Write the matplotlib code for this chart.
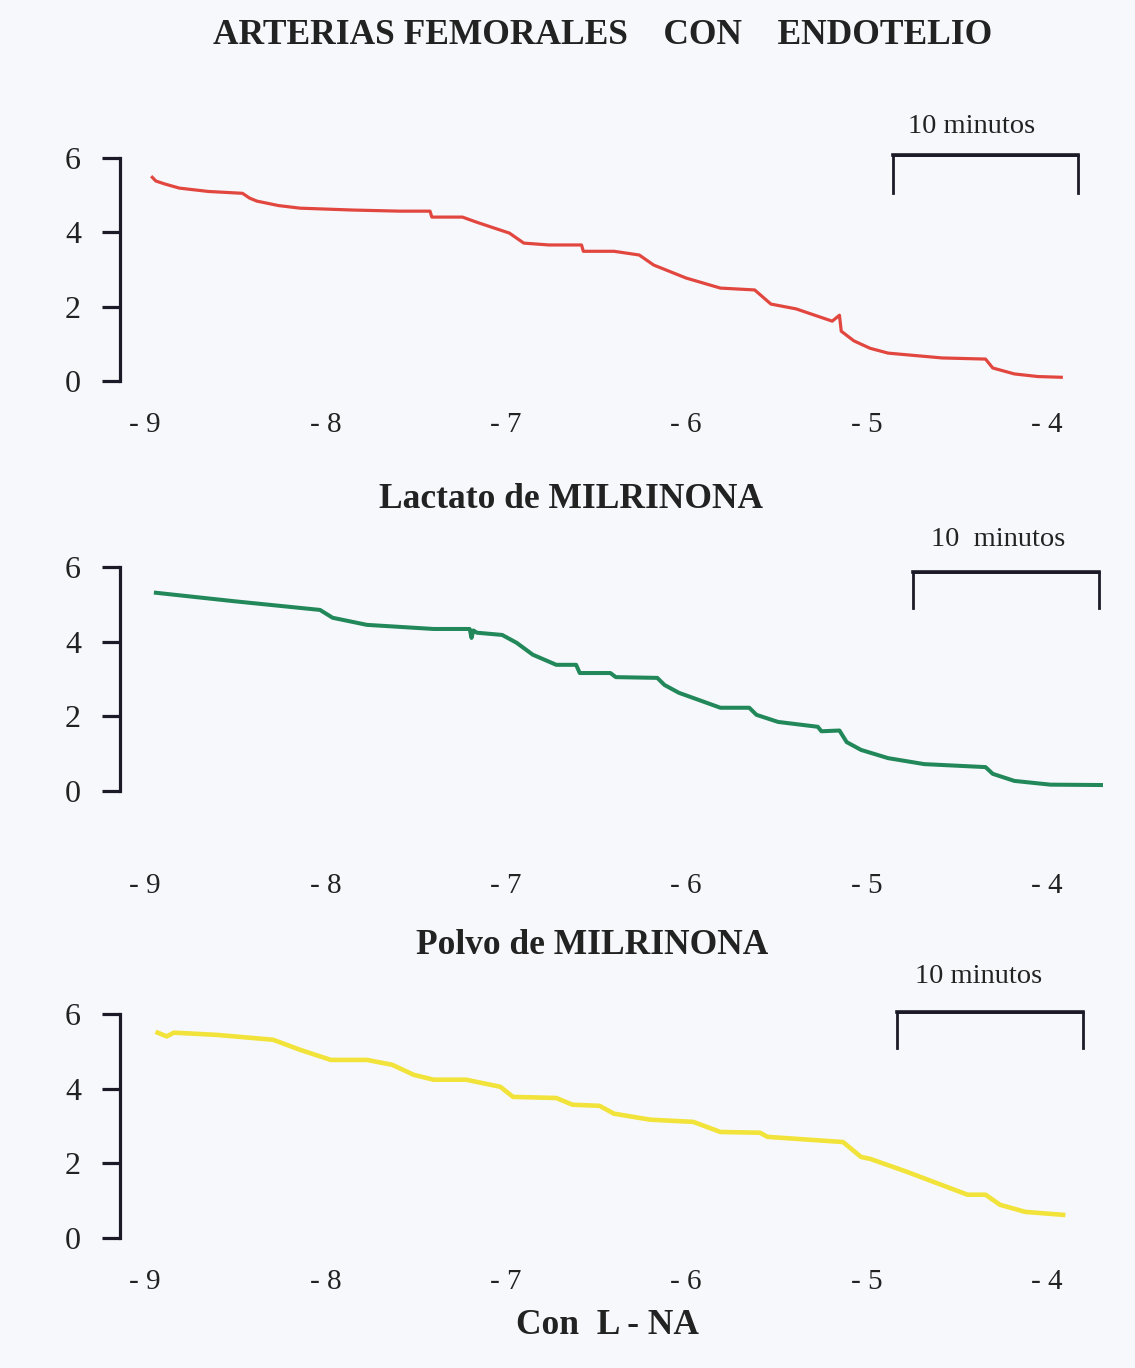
import matplotlib.pyplot as plt

plt.rcParams['font.family'] = ['Liberation Serif', 'DejaVu Serif']

# datos (log concentracion, tension)
x_rojo = [-8.96, -8.94, -8.89, -8.81, -8.65, -8.46, -8.42, -8.38, -8.26, -8.14, -7.85, -7.59, -7.42, -7.41, -7.24,
          -7.16, -7.03, -6.98, -6.90, -6.76, -6.58, -6.57, -6.40, -6.26, -6.18, -6.00, -5.81,
          -5.62, -5.53, -5.39, -5.19, -5.15, -5.14, -5.07, -4.98, -4.88, -4.58, -4.34, -4.30,
          -4.18, -4.05, -3.92]
y_rojo = [5.48, 5.38, 5.30, 5.19, 5.10, 5.05, 4.92, 4.84, 4.72, 4.65, 4.60, 4.57, 4.57, 4.41, 4.41,
          4.27, 4.06, 3.98, 3.71, 3.66, 3.66, 3.49, 3.49, 3.39, 3.12, 2.77, 2.50,
          2.45, 2.07, 1.94, 1.61, 1.77, 1.34, 1.08, 0.88, 0.75, 0.62, 0.59, 0.35,
          0.19, 0.12, 0.10]

x_verde = [-8.94, -8.50, -8.03, -7.96, -7.77, -7.40, -7.20, -7.19, -7.18, -7.16, -7.02, -6.94,
           -6.85, -6.72, -6.61, -6.59, -6.42, -6.39, -6.16, -6.12, -6.04, -5.81, -5.65,
           -5.61, -5.49, -5.27, -5.25, -5.15, -5.11, -5.03, -4.88, -4.68, -4.34, -4.30,
           -4.18, -3.98, -3.70]
y_verde = [5.31, 5.08, 4.85, 4.64, 4.45, 4.34, 4.34, 4.10, 4.30, 4.24, 4.18, 3.97,
           3.65, 3.38, 3.38, 3.16, 3.16, 3.05, 3.03, 2.84, 2.63, 2.23, 2.23,
           2.04, 1.85, 1.72, 1.60, 1.62, 1.31, 1.10, 0.88, 0.72, 0.64, 0.46,
           0.27, 0.17, 0.16]

x_amarillo = [-8.93, -8.88, -8.84, -8.60, -8.29, -8.14, -7.97, -7.77, -7.63, -7.51, -7.40,
              -7.22, -7.03, -6.96, -6.72, -6.63, -6.48, -6.40, -6.20, -5.96, -5.81, -5.59,
              -5.55, -5.13, -5.03, -4.98, -4.78, -4.44, -4.34, -4.26, -4.12, -3.91]
y_amarillo = [5.50, 5.40, 5.50, 5.44, 5.31, 5.04, 4.77, 4.77, 4.64, 4.37, 4.24,
              4.24, 4.05, 3.78, 3.75, 3.57, 3.54, 3.33, 3.17, 3.11, 2.84, 2.82,
              2.71, 2.57, 2.17, 2.12, 1.78, 1.16, 1.16, 0.89, 0.70, 0.62]

ticks_x = [-9, -8, -7, -6, -5, -4]
etiquetas_x = ['- 9', '- 8', '- 7', '- 6', '- 5', '- 4']
ticks_y = [0, 2, 4, 6]

W, H = 1135, 1368
fondo = '#f7f8fc'
tinta = '#1c1a26'

fig = plt.figure(figsize=(W / 100, H / 100), dpi=100, facecolor=fondo)


def panel(top, bottom, pad, xs, ys, color, lw, barra, texto_barra, texto_pos):
    ax = fig.add_axes([120 / W, 1 - bottom / H, 999 / W, (bottom - top) / H])
    ax.set_facecolor(fondo)
    ax.plot(xs, ys, color=color, lw=lw, solid_joinstyle='round', clip_on=False)
    ax.set_xlim(-9.139, -3.6)
    ax.set_ylim(0, 6)
    for s in ['top', 'right', 'bottom']:
        ax.spines[s].set_visible(False)
    ax.spines['left'].set_linewidth(2.3)
    ax.spines['left'].set_color(tinta)
    ax.set_yticks(ticks_y)
    ax.tick_params(axis='y', length=13, width=2.3, color=tinta, pad=15, labelsize=23, labelcolor='#222')
    ax.set_xticks(ticks_x)
    ax.set_xticklabels(etiquetas_x)
    ax.tick_params(axis='x', length=0, pad=pad, labelsize=21, labelcolor='#222')
    # barra de escala de 10 minutos
    x0, x1, yt, yb = barra
    ax.plot([x0, x0, x1, x1], [yb, yt, yt, yb], color=tinta, lw=2.0, clip_on=False)
    ax.plot([x0, x1], [yt, yt], color=tinta, lw=2.6, clip_on=False)
    ax.text(texto_pos[0], texto_pos[1], texto_barra, ha='center', va='center',
            fontsize=20.5, color='#222')
    return ax


panel(158, 381, 22, x_rojo, y_rojo, '#e2473f', 2.3,
      (-4.854, -3.828, 6.08, 5.05), '10 minutos', (-4.42, 6.85))
panel(567, 791, 59, x_verde, y_verde, '#22885a', 2.9,
      (-4.743, -3.712, 5.87, 4.91), '10  minutos', (-4.27, 6.75))
panel(1014, 1238, 22, x_amarillo, y_amarillo, '#f1e33a', 3.3,
      (-4.832, -3.80, 6.06, 5.09), '10 minutos', (-4.38, 7.0))

fig.text(603 / W, 1 - 36 / H, 'ARTERIAS FEMORALES    CON    ENDOTELIO', ha='center', va='center',
         fontsize=25.5, fontweight='bold', color='#222')
fig.text(571 / W, 1 - 500 / H, 'Lactato de MILRINONA', ha='center', va='center',
         fontsize=25.5, fontweight='bold', color='#222')
fig.text(592 / W, 1 - 945 / H, 'Polvo de MILRINONA', ha='center', va='center',
         fontsize=25.5, fontweight='bold', color='#222')
fig.text(607 / W, 1 - 1325 / H, 'Con  L - NA', ha='center', va='center',
         fontsize=25.5, fontweight='bold', color='#222')

plt.savefig('out.png', dpi=100, facecolor=fondo)
